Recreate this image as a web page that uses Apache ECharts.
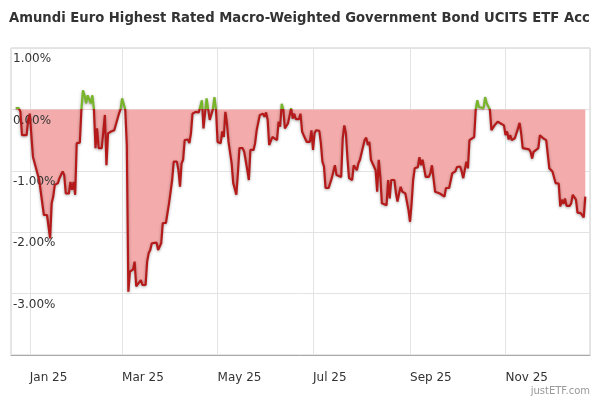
<!DOCTYPE html>
<html>
<head>
<meta charset="utf-8">
<script src="https://cdn.jsdelivr.net/npm/echarts@6/dist/echarts.min.js"></script>
<style>html,body{margin:0;padding:0;background:#fff}#c{width:600px;height:400px}</style>
</head>
<body>
<div id="c"></div>
<script>
// Day offsets relative to 1 Jan 2025
const days = [-9,-7,-6,-5,-2,-1,0,1,2,3,6,9,11,13,14,15,16,18,19,21,22,23,25,26,27,28,29,30,32,33,34,35,36,37,39,40,41,42,43,44,46,48,49,50,52,54,57,58,59,60,61,62,63,64,66,67,68,69,71,72,74,75,76,77,78,79,81,82,83,84,85,87,88,89,90,91,92,94,95,96,97,98,99,101,102,103,104,106,108,109,110,111,113,114,115,117,118,119,120,122,123,124,125,126,127,129,130,132,133,134,136,137,139,140,141,143,144,145,146,147,148,149,150,151,152,153,155,156,158,159,160,161,162,163,164,165,166,167,168,169,170,172,173,174,175,177,178,179,180,181,182,183,185,186,187,188,189,191,192,193,195,196,197,199,200,201,202,203,204,206,207,208,209,210,211,212,214,215,216,217,218,219,221,222,223,224,225,228,229,230,231,233,234,235,236,237,238,240,242,243,244,245,246,248,249,250,251,252,253,255,256,257,258,259,260,262,263,265,266,268,270,272,273,275,276,277,279,280,281,282,284,285,286,287,290,291,292,294,295,296,297,299,300,303,304,305,306,307,308,310,311,312,313,314,315,319,320,321,322,323,325,326,327,328,330,331,332,333,334,336,338,339,340,341,342,343,345,346,347,348,349,350,352,353,354,355];
// Drawdown in percent
const drawdown = [0.02,0.02,-0.04,-0.42,-0.42,-0.17,-0.07,-0.07,-0.77,-0.78,-1.15,-1.72,-1.72,-2.10,-1.53,-1.42,-1.23,-1.20,-1.12,-1.01,-1.07,-1.37,-1.37,-1.18,-1.31,-1.18,-1.39,-0.55,-0.54,0.0,0.31,0.23,0.10,0.23,0.10,0.23,0.0,-0.63,-0.31,-0.63,-0.63,-0.09,-0.91,-0.39,-0.36,-0.34,-0.07,0.0,0.18,0.18,0.0,-0.58,-2.97,-2.64,-2.61,-2.48,-2.88,-2.88,-2.78,-2.86,-2.86,-2.48,-2.34,-2.29,-2.18,-2.15,-2.17,-2.29,-2.32,-2.18,-1.85,-1.85,-1.69,-1.53,-1.50,-1.15,-0.85,-0.85,-0.99,-1.26,-0.88,-0.82,-0.50,-0.49,-0.55,-0.39,-0.07,-0.04,-0.05,-0.04,0.15,-0.31,0.18,0.0,-0.17,0.0,0.20,0.0,-0.53,-0.55,-0.36,-0.45,-0.04,-0.23,-0.53,-0.88,-1.20,-1.39,-1.04,-0.63,-0.63,-0.69,-0.99,-1.15,-0.66,-0.66,-0.55,-0.34,-0.36,-0.09,-0.07,-0.07,-0.12,-0.05,-0.17,-0.58,-0.45,-0.45,-0.50,-0.20,-0.28,0.09,0.0,-0.31,-0.31,-0.23,-0.20,0.02,-0.15,-0.07,-0.16,-0.16,-0.07,-0.36,-0.42,-0.53,-0.55,-0.53,-0.34,-0.66,-0.39,-0.34,-0.35,-0.55,-0.85,-0.93,-1.28,-1.28,-1.31,-1.12,-0.91,-1.07,-1.10,-1.10,-0.47,-0.26,-0.39,-0.80,-1.12,-1.15,-0.91,-0.94,-0.99,-0.88,-0.82,-0.81,-0.50,-0.46,-0.58,-0.53,-0.82,-0.85,-0.99,-1.34,-0.82,-1.10,-1.53,-1.56,-1.15,-1.45,-1.15,-1.15,-1.37,-1.50,-1.37,-1.26,-1.34,-1.37,-1.64,-1.83,-1.53,-1.15,-0.96,-0.94,-0.78,-0.91,-0.82,-0.82,-1.10,-1.10,-1.04,-0.91,-0.93,-1.34,-1.37,-1.37,-1.39,-1.42,-1.28,-1.28,-1.04,-1.01,-0.94,-0.93,-1.01,-1.12,-0.85,-0.96,-0.50,-0.49,-0.45,0.0,0.15,0.04,0.02,0.20,0.10,0.0,-0.34,-0.33,-0.26,-0.20,-0.23,-0.26,-0.42,-0.36,-0.49,-0.42,-0.50,-0.47,-0.45,-0.31,-0.22,-0.39,-0.63,-0.65,-0.69,-0.80,-0.69,-0.66,-0.63,-0.42,-0.43,-0.47,-0.50,-0.53,-0.96,-0.93,-1.01,-1.20,-1.21,-1.58,-1.47,-1.54,-1.45,-1.57,-1.57,-1.53,-1.39,-1.42,-1.47,-1.68,-1.69,-1.72,-1.76,-1.42];
const monthNames = ['Jan','Feb','Mar','Apr','May','Jun','Jul','Aug','Sep','Oct','Nov','Dec'];
const axisStartDay = -12, axisEndDay = 358;

const dayToTime = d => new Date(2025, 0, 1 + d).getTime();
const seriesData = days.map((d, i) => [dayToTime(d), drawdown[i]]);

const GREEN = '#79b52a', RED = '#b51a1a', PINK = '#f4abab';
const font = 'DejaVu Sans';
const chart = echarts.init(document.getElementById('c'), null, {renderer: 'canvas'});
const yBase = {type: 'value', min: -4, max: 1, interval: 1, gridIndex: 0, position: 'left',
  axisLine: {show: false}, axisTick: {show: false}};
chart.setOption({
  animation: false,
  backgroundColor: '#fff',
  title: {
    text: 'Amundi Euro Highest Rated Macro-Weighted Government Bond UCITS ETF Acc',
    left: 4, top: 7,
    textStyle: {fontFamily: font, fontSize: 13.2, fontWeight: 'bold', color: '#333'}
  },
  graphic: [{
    type: 'text', right: 10, bottom: 4,
    style: {text: 'justETF.com', fill: '#999', font: '10px ' + font}
  }],
  grid: {left: 11, right: 10, top: 48, bottom: 45, show: true, borderColor: '#ccc', borderWidth: 1},
  xAxis: {
    type: 'time',
    min: dayToTime(axisStartDay), max: dayToTime(axisEndDay),
    axisLine: {show: true, onZero: false, lineStyle: {color: '#aaa'}},
    axisTick: {show: false},
    splitLine: {show: true, lineStyle: {color: '#e3e3e3'}},
    axisLabel: {
      align: 'left', margin: 17, color: '#333', fontFamily: font, fontSize: 12,
      formatter: v => { const d = new Date(v); return monthNames[d.getMonth()] + ' ' + String(d.getFullYear()).slice(2); }
    },
    z: 0
  },
  yAxis: [
    Object.assign({}, yBase, {
      splitLine: {show: true, lineStyle: {color: '#e3e3e3'}},
      axisLabel: {show: false}, z: 0
    }),
    Object.assign({}, yBase, {
      splitLine: {show: false},
      axisLabel: {
        inside: true, margin: 2, verticalAlign: 'top', padding: [5, 0, 0, 0],
        color: '#333', fontFamily: font, fontSize: 12,
        formatter: v => v <= -4 ? '' : v.toFixed(2) + '%'
      },
      z: 4
    })
  ],
  series: [{
    type: 'line', name: 'area',
    data: seriesData,
    showSymbol: false, silent: true,
    lineStyle: {width: 0},
    areaStyle: {color: PINK, opacity: 1},
    z: 2
  }, {
    type: 'line', name: 'line',
    data: seriesData,
    showSymbol: false,
    lineStyle: {width: 2.2, color: RED, shadowColor: 'rgba(0,0,0,0.35)', shadowBlur: 3, shadowOffsetY: 1},
    z: 6
  }]
});
// line green above zero / red below; fill only below zero
const y0 = chart.convertToPixel({yAxisIndex: 0}, 0);
const f = y0 / 400;
const split = (a, b) => ({type: 'linear', x: 0, y: 0, x2: 0, y2: 400, global: true,
  colorStops: [{offset: 0, color: a}, {offset: f, color: a}, {offset: f, color: b}, {offset: 1, color: b}]});
chart.setOption({
  series: [
    {areaStyle: {color: split('rgba(255,255,255,0)', PINK)}},
    {lineStyle: {color: split(GREEN, RED)}}
  ]
});
</script>
</body>
</html>
